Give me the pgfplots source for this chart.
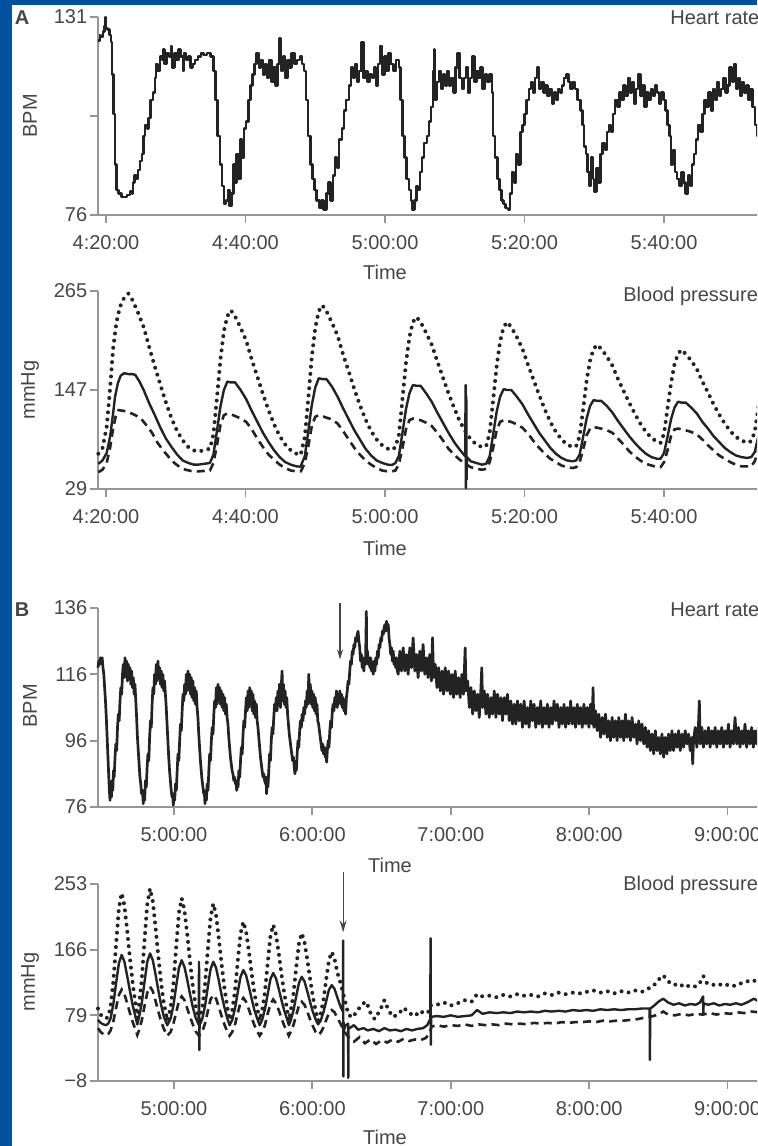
\documentclass[border=0pt]{standalone}
\usepackage{fontspec}
\setmainfont{Liberation Sans}
\usepackage{pgfplots}
\pgfplotsset{compat=1.18}
\usetikzlibrary{arrows.meta}

\definecolor{frameblue}{RGB}{0,82,160}
\definecolor{axgray}{RGB}{150,150,150}
\definecolor{txtgray}{RGB}{70,70,70}
\definecolor{trace}{RGB}{35,35,35}

\newcommand{\lbl}{\fontsize{10}{12}\selectfont\color{txtgray}}

\pgfplotsset{
  panel/.style={
    scale only axis, anchor=south west,
    width=346pt,
    axis x line*=bottom, axis y line*=left,
    axis line style={draw=axgray, line width=1pt, -},
    tick style={draw=axgray, line width=0.9pt},
    tick align=outside, major tick length=4pt,
    ticklabel style={font=\fontsize{10}{12}\selectfont, text=txtgray},
    xticklabel style={yshift=-2.5pt},
    yticklabel style={inner xsep=1.2pt},
    clip=false,
  },
  hr/.style={trace, line width=1.2pt, line join=round, no markers},
  sys/.style={trace, line width=2pt, line cap=round, dash pattern=on 0pt off 3.6pt, no markers},
  mean/.style={trace, line width=1.2pt, line join=round, no markers},
  dia/.style={trace, line width=1.3pt, dash pattern=on 4pt off 2.6pt, no markers},
}

\begin{document}
\begin{tikzpicture}
\path[use as bounding box] (0,0) rectangle (378.5pt,573pt);
\clip (0,0) rectangle (378.5pt,573pt);
\fill[frameblue] (0,0) rectangle (378.5pt,573pt);
\fill[white] (6pt,0pt) rectangle (378.5pt,570.5pt);

% ---------------- A: heart rate (x in minutes after 4:00)
\begin{axis}[panel, at={(49pt,465.5pt)}, height=99pt,
  xmin=18.853, xmax=118.06, ymin=76, ymax=131,
  xtick={20,40,60,80,100},
  xticklabels={4:20:00,4:40:00,5:00:00,5:20:00,5:40:00},
  ytick={76,103.5,131}, yticklabels={76,,131}]
\addplot[hr, const plot] coordinates {
(18.9,124.5)(19.1,126)(19.3,125.5)(19.6,127)(19.8,128.5)(19.9,131)(20.0,128)(20.2,127.5)(20.5,126)(20.7,124)
(20.9,115)(21.1,104)(21.3,90)(21.5,83)(21.8,82)(22.2,81)(22.6,81)(23.0,81.5)(23.4,82.5)(23.7,82)
(23.9,85)(24.1,87)(24.4,86)(24.6,88.5)(24.9,91)(25.2,93)(25.4,98)(25.6,101)(25.9,100)(26.1,103)
(26.4,108)(26.7,110)(27.0,114)(27.2,118)(27.4,116)(27.7,120)(28.0,119)(28.2,122)(28.4,118)(28.7,121)
(29.0,120)(29.3,123)(29.5,117)(29.8,121)(30.1,119)(30.4,122)(30.7,120)(31.0,116)(31.2,121)(31.5,119)
(31.8,120)(32.1,117)(32.4,118)(32.8,119)(33.2,120)(33.6,121)(34.0,120.5)(34.5,121)(35.0,120)(35.4,116)
(35.7,108)(36.0,98)(36.3,90)(36.6,84)(36.9,79)(37.2,80)(37.5,83)(37.7,78.5)(38.0,82)(38.3,90)
(38.5,85)(38.7,93)(39.0,86)(39.3,97)(39.5,92)(39.8,100)(40.1,102)(40.4,108)(40.7,112)(41.0,115)
(41.3,118)(41.6,121)(41.9,117)(42.2,119)(42.5,115)(42.8,118)(43.1,114)(43.4,119)(43.7,113)(44.0,117)
(44.3,112)(44.6,118)(44.9,125)(45.1,116)(45.4,120)(45.7,114)(46.0,119)(46.3,117)(46.6,121)(47.0,118)
(47.4,119)(47.8,120)(48.1,118)(48.4,116)(48.7,108)(49.0,98)(49.3,90)(49.6,86)(49.9,83)(50.2,80)
(50.6,78)(50.9,80)(51.2,77.5)(51.6,82)(51.9,85)(52.2,80)(52.5,87)(52.8,92)(53.1,89)(53.4,97)
(53.8,100)(54.1,105)(54.4,108)(54.8,112)(55.1,117)(55.4,114)(55.7,118)(56.0,113)(56.3,116)(56.6,124)
(56.9,114)(57.2,116)(57.5,113)(57.8,115)(58.1,114)(58.4,117)(58.7,112)(59.0,118)(59.3,123)(59.6,115)
(59.9,120)(60.2,116)(60.5,121)(60.8,118)(61.2,116)(61.6,119)(62.0,117)(62.2,108)(62.5,98)(62.8,92)
(63.1,86)(63.4,83)(63.7,80)(63.9,77.5)(64.2,80)(64.5,84)(64.7,83)(65.0,88)(65.3,92)(65.6,96)
(66.0,98)(66.3,102)(66.6,106)(66.9,116)(67.0,122)(67.1,108)(67.4,113)(67.7,116)(68.0,111)(68.3,115)
(68.6,112)(68.9,116)(69.2,112)(69.5,114)(69.8,110)(70.1,117)(70.4,121)(70.7,114)(71.0,111)(71.3,114)
(71.6,117)(71.9,110)(72.2,114)(72.5,120)(72.8,113)(73.1,116)(73.4,114)(73.7,117)(74.0,111)(74.3,115)
(74.6,113)(75.0,115)(75.3,110)(75.5,98)(75.8,92)(76.1,86)(76.4,83)(76.7,80)(77.0,79)(77.3,78)
(77.6,77.5)(77.9,82)(78.2,88)(78.5,85)(78.8,93)(79.1,90)(79.4,99)(79.7,101)(80.0,104)(80.3,108)
(80.6,111)(80.9,113)(81.2,110)(81.5,114)(81.8,117)(82.1,111)(82.4,113)(82.7,110)(83.0,112)(83.3,109)
(83.6,111)(83.9,107)(84.2,110)(84.5,108)(84.8,111)(85.1,110)(85.4,112)(85.7,114)(86.0,115)(86.3,113)
(86.6,111)(86.9,113)(87.2,111)(87.6,108)(88.0,105)(88.3,101)(88.5,95)(88.8,93)(89.0,88)(89.3,84)
(89.5,92)(89.8,86)(90.0,82.5)(90.3,89)(90.6,85)(90.9,93)(91.2,96)(91.5,94)(91.8,99)(92.1,101)
(92.4,99)(92.7,104)(93.0,108)(93.3,106)(93.6,110)(93.9,108)(94.2,112)(94.5,109)(94.8,114)(95.1,110)
(95.4,113)(95.7,107)(96.0,111)(96.3,115)(96.6,109)(96.9,112)(97.2,106)(97.5,110)(97.8,108)(98.1,111)
(98.4,109)(98.7,112)(99.0,110)(99.3,107)(99.6,110)(99.9,108)(100.2,105)(100.5,101)(100.8,98)(101.0,90)
(101.3,94)(101.6,88)(101.9,86)(102.2,84)(102.5,88)(102.8,85)(103.1,82)(103.4,87)(103.7,84)(104.0,90)
(104.3,93)(104.6,97)(104.9,101)(105.2,99)(105.5,104)(105.8,108)(106.1,106)(106.4,110)(106.7,105)(107.0,111)
(107.3,108)(107.6,113)(107.9,109)(108.2,111)(108.5,114)(108.8,110)(109.1,112)(109.4,117)(109.7,113)(110.0,118)
(110.3,111)(110.6,114)(110.9,109)(111.2,113)(111.5,110)(111.8,112)(112.1,108)(112.4,111)(112.7,106)(113.0,101)
(113.3,98)(113.6,95)(114.0,93)};
\end{axis}

% ---------------- A: blood pressure
\begin{axis}[panel, at={(49pt,328.5pt)}, height=99pt,
  xmin=18.853, xmax=118.06, ymin=29, ymax=265,
  xtick={20,40,60,80,100},
  xticklabels={4:20:00,4:40:00,5:00:00,5:20:00,5:40:00},
  ytick={29,147,265}, yticklabels={29,147,265}]
\addplot[sys] coordinates {
(18.9,71)(19.5,78)(20.1,103)(20.6,150)(21.0,195)(21.5,228)(22.0,246)(22.6,257)(23.2,262)(23.8,254)(24.6,239)(25.4,222)(26.2,198)(27.0,175)(27.8,153)(28.6,132)(29.4,113)(30.2,98)(31.0,87)(31.8,79)(32.6,75)(33.2,73.5)
(34.9,77)(35.4,94)(35.9,137)(36.4,183)(36.9,217)(37.4,235)(37.9,242)(38.5,235)(39.3,221)(40.1,206)(40.9,183)(41.7,163)(42.5,142)(43.3,123)(44.1,106)(44.9,92)(45.7,82)(46.5,75)(47.3,71)(47.9,69.5)
(48.0,73)(48.5,91)(49.0,137)(49.5,186)(50.0,221)(50.5,241)(51.0,248)(51.6,241)(52.4,227)(53.2,212)(54.0,189)(54.8,169)(55.6,148)(56.4,129)(57.2,112)(58.0,98)(58.8,88)(59.6,81)(60.4,77)(61.0,75.5)
(61.5,79)(62.0,94)(62.5,136)(63.0,179)(63.5,210)(64.0,228)(64.5,234)(65.1,228)(65.9,215)(66.7,201)(67.5,181)(68.3,162)(69.1,143)(69.9,126)(70.7,110)(71.5,98)(72.3,88)(73.1,82)(73.9,79)
(74.5,80)(75.0,96)(75.5,135)(76.0,175)(76.5,205)(77.0,222)(77.5,228)(78.1,222)(78.9,210)(79.7,196)(80.5,177)(81.3,159)(82.1,141)(82.9,124)(83.7,109)(84.5,97)(85.3,88)(86.1,82)(86.9,79)
(87.4,80)(87.9,92)(88.4,124)(88.9,158)(89.4,182)(89.9,196)(90.4,201)(91.0,196)(91.8,187)(92.6,176)(93.4,160)(94.2,146)(95.0,132)(95.8,119)(96.6,107)(97.4,97)(98.2,90)(99.0,85)
(99.5,84)(100.0,95)(100.5,125)(101.0,155)(101.5,178)(102.0,190)(102.5,195)(103.1,190)(103.9,182)(104.7,172)(105.5,157)(106.3,144)(107.1,130)(107.9,118)(108.7,107)(109.5,98)(110.3,91)(111.1,87)(111.9,84)
(112.5,86)(113.0,97)(113.5,125)(114.0,155)(114.5,177)};
\addplot[mean] coordinates {
(18.9,59)(19.5,63)(20.1,72)(20.6,92)(21.0,118)(21.3,139)(21.7,155)(22.1,164)(22.6,167)(23.2,166)(23.8,166)(24.2,165)(24.8,157)(25.4,147)(26.2,131)(27.0,117)(27.8,102)(28.6,89)(29.4,79)(30.2,70)(31.0,63)(31.8,60)(32.6,58)(33.2,58)
(34.9,60)(35.4,70)(35.9,98)(36.4,127)(36.9,147)(37.4,157)(37.9,156)(38.5,156)(39.3,147)(40.1,136)(40.9,122)(41.7,109)(42.5,96)(43.3,85)(44.1,75)(44.9,67)(45.7,61)(46.5,58)(47.3,56)(47.9,55.6)
(48.0,58)(48.5,68)(49.0,98)(49.5,129)(50.0,150)(50.5,161)(51.0,160)(51.6,160)(52.4,151)(53.2,139)(54.0,125)(54.8,112)(55.6,99)(56.4,88)(57.2,77)(58.0,69)(58.8,63)(59.6,60)(60.4,58)(61.0,57.6)
(61.5,60)(62.0,69)(62.5,96)(63.0,124)(63.5,143)(64.0,153)(64.5,152)(65.1,152)(65.9,143)(66.7,133)(67.5,120)(68.3,108)(69.1,96)(69.9,85)(70.7,76)(71.5,68)
(71.55,153)(71.6,30)(71.65,140)(71.7,40)(71.75,67)(72.3,62)(73.1,60)(73.9,58)
(74.5,59)(75.0,68)(75.5,94)(76.0,121)(76.5,139)(77.0,148)(77.5,147)(78.1,147)(78.9,139)(79.7,130)(80.5,118)(81.3,107)(82.1,96)(82.9,87)(83.7,78)(84.5,71)(85.3,66)(86.1,63)(86.9,62)
(87.4,63)(87.9,70)(88.4,91)(88.9,113)(89.4,128)(89.9,135)(90.4,134)(91.0,134)(91.8,128)(92.6,120)(93.4,110)(94.2,101)(95.0,92)(95.8,84)(96.6,77)(97.4,71)(98.2,67)(99.0,65)
(99.5,65)(100.0,72)(100.5,91)(101.0,112)(101.5,126)(102.0,133)(102.5,132)(103.1,132)(103.9,126)(104.7,119)(105.5,109)(106.3,101)(107.1,92)(107.9,85)(108.7,78)(109.5,73)(110.3,69)(111.1,67)(111.9,66)
(112.5,67)(113.0,73)(113.5,91)(114.0,109)(114.5,122)};
\addplot[dia] coordinates {
(18.9,49)(19.5,52)(20.1,60)(20.6,79)(21.0,100)(21.4,116)(21.8,123)(22.6,122)(23.4,120)(24.2,117)(25.0,113)(25.8,105)(26.6,96)(27.4,84)(28.2,75)(29.0,67)(29.8,60)(30.6,55)(31.4,52)(32.2,50.5)(33.2,50)
(34.9,51)(35.4,60)(35.9,81)(36.4,105)(36.9,117)(37.4,119)(37.9,118)(38.5,116)(39.3,113)(40.1,109)(40.9,100)(41.7,89)(42.5,79)(43.3,70)(44.1,64)(44.9,58)(45.7,54)(46.5,51)(47.3,50)(47.9,50)
(48.0,51)(48.5,60)(49.0,80)(49.5,104)(50.0,115)(50.5,117)(51.0,116)(51.6,114)(52.4,112)(53.2,107)(54.0,98)(54.8,88)(55.6,78)(56.4,70)(57.2,63)(58.0,58)(58.8,54)(59.6,51)(60.4,50)(61.0,50)
(61.5,51)(62.0,59)(62.5,78)(63.0,100)(63.5,111)(64.0,113)(64.5,112)(65.1,111)(65.9,108)(66.7,104)(67.5,96)(68.3,87)(69.1,77)(69.9,70)(70.7,64)(71.5,59)(72.3,55)(73.1,53)(73.9,52)
(74.5,53)(75.0,61)(75.5,78)(76.0,99)(76.5,109)(77.0,111)(77.5,110)(78.1,109)(78.9,106)(79.7,102)(80.5,95)(81.3,86)(82.1,78)(82.9,71)(83.7,65)(84.5,61)(85.3,57)(86.1,55)(86.9,54)
(87.4,55)(87.9,61)(88.4,76)(88.9,93)(89.4,101)(89.9,103)(90.4,102)(91.0,101)(91.8,99)(92.6,96)(93.4,89)(94.2,82)(95.0,74)(95.8,68)(96.6,63)(97.4,59)(98.2,57)(99.0,55)
(99.5,55)(100.0,61)(100.5,75)(101.0,92)(101.5,100)(102.0,101)(102.5,100)(103.1,99)(103.9,97)(104.7,94)(105.5,88)(106.3,81)(107.1,75)(107.9,69)(108.7,65)(109.5,61)(110.3,58)(111.1,56)(111.9,56)
(112.5,56)(113.0,62)(113.5,75)(114.0,91)(114.5,98)};
\end{axis}

% ---------------- B: heart rate (x in hours)
\begin{axis}[panel, at={(49pt,169.5pt)}, height=99.5pt,
  xmin=4.451, xmax=9.451, ymin=76, ymax=136,
  xtick={5,6,7,8,9},
  xticklabels={5:00:00,6:00:00,7:00:00,8:00:00,9:00:00},
  ytick={76,96,116,136}, yticklabels={76,96,116,136}]
\addplot[hr, line width=1.35pt] coordinates {
(4.451,118)(4.457,120)(4.463,119)(4.469,121)(4.475,120)(4.481,121)(4.487,118)
(4.493,116)(4.499,112)(4.505,108)(4.511,103)(4.517,97)(4.523,91)(4.528,86)(4.533,81)(4.538,78)
(4.543,82)(4.548,79)(4.553,84)(4.558,81)(4.563,87)(4.568,85)(4.574,91)(4.580,95)(4.586,93)(4.592,100)(4.598,104)(4.604,102)(4.610,108)(4.616,112)(4.622,110)(4.628,116)
(4.634,119)(4.640,115)(4.646,121)(4.652,116)(4.658,120)(4.664,114)(4.670,119)(4.676,115)(4.682,118)(4.688,113)(4.694,117)(4.700,112)(4.706,115)(4.712,110)(4.718,113)
(4.724,108)(4.730,103)(4.736,97)(4.742,93)(4.748,89)(4.754,85)(4.760,83)(4.766,80)(4.772,81)(4.778,77)
(4.783,81)(4.788,78)(4.794,84)(4.800,82)(4.806,88)(4.812,92)(4.818,90)(4.824,97)(4.830,102)(4.836,100)(4.842,107)(4.848,112)(4.854,110)(4.860,116)
(4.866,113)(4.872,119)(4.878,114)(4.884,120)(4.890,115)(4.896,118)(4.902,113)(4.908,117)(4.914,112)(4.920,116)(4.926,111)(4.932,114)(4.938,110)
(4.944,106)(4.950,101)(4.956,96)(4.962,91)(4.968,87)(4.974,84)(4.980,81)(4.986,79)(4.990,80)(4.995,76.5)
(5.000,80)(5.005,78)(5.011,83)(5.017,81)(5.023,87)(5.029,92)(5.035,90)(5.041,96)(5.047,101)(5.053,99)(5.059,105)(5.065,110)(5.071,108)(5.077,113)
(5.083,110)(5.089,116)(5.095,111)(5.101,117)(5.107,112)(5.113,116)(5.119,110)(5.125,115)(5.131,109)(5.137,114)(5.143,108)(5.149,112)(5.155,107)(5.161,111)(5.167,106)
(5.173,103)(5.179,98)(5.185,94)(5.191,90)(5.197,87)(5.203,84)(5.209,82)(5.215,80)(5.219,81)(5.224,77)
(5.229,80)(5.234,78)(5.240,83)(5.246,81)(5.252,87)(5.258,92)(5.264,90)(5.270,96)(5.276,100)(5.282,98)(5.288,104)(5.294,108)
(5.300,106)(5.306,112)(5.312,107)(5.318,113)(5.324,108)(5.330,112)(5.336,107)(5.342,111)(5.348,106)(5.354,110)(5.360,105)(5.366,109)(5.372,104)(5.378,107)(5.384,103)
(5.390,101)(5.396,97)(5.402,94)(5.408,91)(5.414,89)(5.420,87)(5.426,86)(5.432,84)(5.438,85)(5.444,83)(5.448,84)(5.453,81)
(5.458,84)(5.463,82)(5.469,87)(5.475,85)(5.481,90)(5.487,94)(5.493,92)(5.499,98)(5.505,102)(5.511,100)(5.517,105)
(5.523,109)(5.529,105)(5.535,111)(5.541,106)(5.547,112)(5.553,107)(5.559,111)(5.565,105)(5.571,110)(5.577,104)(5.583,108)(5.589,103)(5.595,107)(5.601,102)
(5.607,100)(5.613,97)(5.619,94)(5.625,91)(5.631,89)(5.637,87)(5.643,85)(5.649,86)(5.655,84)(5.661,83)(5.665,85)(5.669,80)
(5.674,84)(5.679,82)(5.685,87)(5.691,92)(5.697,90)(5.703,96)(5.709,100)(5.715,98)(5.721,103)(5.727,107)(5.733,105)
(5.739,109)(5.745,105)(5.751,111)(5.757,107)(5.763,113)(5.769,106)(5.775,112)(5.781,117)(5.786,108)(5.791,113)(5.797,107)(5.803,111)(5.809,106)(5.815,109)
(5.821,104)(5.827,101)(5.833,98)(5.839,96)(5.845,94)(5.851,92)(5.857,90)(5.863,91)(5.869,88)(5.874,86)
(5.879,89)(5.884,87)(5.890,92)(5.896,96)(5.902,94)(5.908,99)(5.914,102)(5.920,100)(5.926,104)(5.932,102)(5.938,106)(5.944,104)(5.950,108)
(5.956,106)(5.962,111)(5.968,107)(5.974,116)(5.979,108)(5.985,113)(5.991,107)(5.997,111)(6.003,106)(6.009,110)(6.015,105)(6.021,109)(6.027,104)(6.033,107)
(6.039,102)(6.045,101)(6.051,99)(6.057,97)(6.063,95)(6.069,93)(6.075,95)(6.081,92)(6.087,94)(6.093,91)(6.098,93)(6.103,89.5)
(6.108,93)(6.114,96)(6.120,94)(6.126,99)(6.132,102)(6.138,100)(6.144,105)(6.150,107)
(6.156,105)(6.162,109)(6.168,107)(6.174,111)(6.180,106)(6.186,110)(6.192,108)(6.198,111)(6.204,107)(6.210,110)(6.216,106)(6.222,109)(6.228,105)(6.234,108)(6.240,104)(6.246,109)
(6.252,111)(6.258,114)(6.264,113)(6.270,117)(6.276,120)(6.282,119)(6.288,123)(6.294,122)(6.300,125)(6.306,124)(6.312,127)(6.318,126)(6.324,128)(6.330,129)(6.336,126)(6.342,124)(6.348,120)(6.354,122)(6.360,118)(6.366,121)
(6.372,117)(6.378,121)(6.384,119)(6.390,135)(6.393,120)(6.398,123)(6.404,119)(6.410,121)(6.416,118)(6.422,121)(6.428,117)(6.434,119)(6.440,116)(6.446,120)(6.452,117)(6.458,121)(6.464,119)(6.470,123)(6.476,121)(6.482,125)
(6.488,124)(6.494,127)(6.500,126)(6.506,129)(6.512,128)(6.518,130)(6.524,131)(6.530,129)(6.536,132)(6.542,130)(6.548,131)(6.554,127)(6.560,125)(6.566,122)(6.572,124)(6.578,120)(6.584,123)(6.590,119)(6.596,121)(6.602,118)(6.608,121)(6.614,117)
(6.620,116)(6.632,123)(6.644,117)(6.656,124)(6.668,117)(6.680,122)(6.692,116)(6.704,124)(6.716,118)(6.728,127)(6.740,117)(6.752,122)(6.764,115)(6.776,123)(6.788,117)(6.800,125)(6.812,116)(6.824,121)(6.836,115)(6.848,122)
(6.860,114)(6.868,127)(6.876,115)(6.888,119)(6.900,112)(6.912,118)(6.924,111)(6.936,117)(6.948,110)(6.960,118)(6.972,111)(6.984,117)(6.996,110)(7.008,116)(7.020,109)(7.032,117)(7.044,110)(7.056,115)(7.068,109)(7.080,116)
(7.092,110)(7.104,124)(7.110,111)(7.122,114)(7.134,106)(7.146,112)(7.158,104)(7.170,111)(7.182,105)(7.194,110)(7.206,103)(7.218,112)(7.224,118)(7.230,106)(7.242,111)(7.254,104)(7.266,110)(7.278,103)(7.290,109)(7.302,104)
(7.314,111)(7.326,103)(7.338,110)(7.350,104)(7.362,109)(7.374,102)(7.386,109)(7.398,104)(7.410,110)(7.422,102)(7.434,108)(7.446,101)(7.458,107)(7.470,101)(7.482,108)(7.494,102)(7.506,107)(7.518,100)(7.530,108)(7.542,101)
(7.554,106)(7.566,100)(7.578,108)(7.590,102)(7.602,107)(7.614,100)(7.626,106)(7.638,101)(7.650,108)(7.662,100)(7.674,106)(7.686,101)(7.698,107)(7.710,100)(7.722,106)(7.734,101)(7.746,108)(7.758,102)(7.770,107)(7.782,100)
(7.794,106)(7.806,101)(7.818,107)(7.830,100)(7.842,106)(7.854,101)(7.866,108)(7.878,101)(7.890,106)(7.902,100)(7.914,107)(7.926,101)(7.938,106)(7.950,100)(7.962,107)(7.974,101)(7.986,106)(7.998,100)(8.010,107)(8.022,101)
(8.028,112)(8.034,100)(8.046,105)(8.058,99)(8.070,104)(8.082,97)(8.094,103)(8.106,98)(8.118,104)(8.130,97)(8.142,102)(8.154,96)(8.166,103)(8.178,97)(8.190,102)(8.202,96)(8.214,103)(8.226,97)(8.238,102)(8.250,96)
(8.262,104)(8.274,97)(8.286,102)(8.298,96)(8.310,103)(8.322,97)(8.334,101)(8.346,95)(8.358,102)(8.370,96)(8.382,101)(8.394,95)(8.406,100)(8.418,94)(8.430,99)(8.442,93)(8.454,98)(8.466,92)(8.478,99)(8.490,93)
(8.502,97)(8.514,92)(8.526,98)(8.538,91)(8.550,97)(8.562,92)(8.574,98)(8.586,93)(8.598,99)(8.610,93)(8.622,98)(8.634,94)(8.646,99)(8.658,93)(8.670,98)(8.682,94)(8.694,99)(8.706,95)(8.718,98)(8.730,93)
(8.742,97)(8.748,89)(8.754,96)(8.766,100)(8.778,94)(8.790,101)(8.796,108)(8.802,95)(8.814,100)(8.826,94)(8.838,99)(8.850,95)(8.862,100)(8.874,94)(8.886,99)(8.898,95)(8.910,100)(8.922,94)(8.934,99)(8.946,95)
(8.958,100)(8.970,94)(8.982,99)(8.994,95)(9.006,101)(9.018,94)(9.030,99)(9.042,95)(9.054,103)(9.066,95)(9.078,100)(9.090,94)(9.102,99)(9.114,95)(9.126,101)(9.138,94)(9.150,99)(9.162,95)(9.174,100)(9.186,94)
(9.198,99)(9.210,95)(9.222,100)(9.234,96)(9.246,99)};
\draw[txtgray, line width=0.6pt, -{Stealth[length=5pt,width=3pt]}] (axis cs:6.20,137.5) -- (axis cs:6.20,120.5);
\end{axis}

% ---------------- B: blood pressure
\begin{axis}[panel, at={(49pt,32.5pt)}, height=98.5pt,
  xmin=4.451, xmax=9.451, ymin=-8, ymax=253,
  xtick={5,6,7,8,9},
  xticklabels={5:00:00,6:00:00,7:00:00,8:00:00,9:00:00},
  ytick={-8,79,166,253}, yticklabels={−8,79,166,253}]
\addplot[sys] coordinates {
(4.451,88)(4.47,80)(4.49,76)(4.51,75)(4.525,77)
(4.542,91)(4.562,124)(4.582,174)(4.602,221)(4.622,241)(4.642,224)(4.662,191)(4.682,154)(4.702,121)(4.722,94)(4.735,75)
(4.747,91)(4.767,126)(4.787,178)(4.807,226)(4.827,247)(4.847,230)(4.867,195)(4.887,157)(4.907,122)(4.927,95)(4.952,72)
(4.976,89)(4.996,121)(5.016,170)(5.036,215)(5.056,234)(5.076,218)(5.096,186)(5.116,150)(5.136,118)(5.156,92)(5.180,73)
(5.204,88)(5.224,119)(5.244,165)(5.264,208)(5.284,227)(5.304,212)(5.324,181)(5.344,147)(5.364,116)(5.384,91)(5.402,73)
(5.421,86)(5.441,112)(5.461,151)(5.481,187)(5.501,203)(5.521,190)(5.541,164)(5.561,135)(5.581,109)(5.601,89)(5.619,72)
(5.637,85)(5.657,110)(5.677,148)(5.697,184)(5.717,199)(5.737,186)(5.757,161)(5.777,133)(5.797,108)(5.817,87)(5.830,72)
(5.843,84)(5.863,107)(5.883,142)(5.903,174)(5.923,188)(5.943,176)(5.963,153)(5.983,128)(6.003,104)(6.023,86)(6.041,72)
(6.060,81)(6.080,99)(6.100,127)(6.120,152)(6.140,163)(6.160,154)(6.180,136)(6.200,124)(6.220,110)
(6.240,95)(6.26,80)(6.29,76)(6.32,84)(6.36,94)(6.39,97)(6.42,82)(6.45,74)(6.49,86)(6.52,99)(6.55,86)(6.58,77)(6.62,80)(6.66,89)(6.70,82)(6.74,78)(6.78,85)(6.81,81)(6.84,84)
(6.853,92)(6.90,93)(6.95,96)(7.00,92)(7.05,95)(7.10,99)(7.15,97)(7.19,107)(7.23,104)(7.28,105)(7.33,103)(7.38,106)(7.43,104)(7.48,107)(7.53,105)(7.58,106)(7.63,104)(7.68,108)(7.73,106)(7.78,109)
(7.83,107)(7.88,109)(7.93,108)(7.98,110)(8.03,112)(8.08,109)(8.13,111)(8.18,108)(8.23,111)(8.28,109)(8.33,112)(8.38,110)(8.42,114)(8.46,117)(8.50,126)(8.535,132)(8.57,124)(8.61,119)(8.65,121)(8.69,116)
(8.73,119)(8.77,117)(8.80,122)(8.825,131)(8.85,122)(8.89,119)(8.93,121)(8.97,118)(9.01,120)(9.05,118)(9.09,121)(9.13,123)(9.17,126)(9.21,124)(9.25,125)};
\addplot[mean] coordinates {
(4.451,73)(4.47,69)(4.49,67)(4.51,66)(4.525,68)
(4.542,75)(4.562,94)(4.582,122)(4.602,148)(4.622,159)(4.642,150)(4.662,131)(4.682,111)(4.702,92)(4.722,77)(4.735,67)
(4.747,76)(4.767,95)(4.787,123)(4.807,150)(4.827,161)(4.847,152)(4.867,133)(4.887,112)(4.907,93)(4.927,77)(4.952,66)
(4.976,75)(4.996,92)(5.016,118)(5.036,142)(5.056,152)(5.076,143)(5.096,126)(5.116,107)(5.136,90)(5.156,76)(5.178,67)(5.181,150)(5.183,33)(5.185,66)
(5.204,74)(5.224,91)(5.244,116)(5.264,140)(5.284,150)(5.304,142)(5.324,125)(5.344,106)(5.364,90)(5.384,76)(5.402,66)
(5.421,73)(5.441,88)(5.461,110)(5.481,130)(5.501,139)(5.521,132)(5.541,117)(5.561,101)(5.581,86)(5.601,75)(5.619,66)
(5.637,73)(5.657,87)(5.677,107)(5.697,127)(5.717,135)(5.737,128)(5.757,114)(5.777,99)(5.797,85)(5.817,74)(5.830,66)
(5.843,72)(5.863,85)(5.883,104)(5.903,122)(5.923,130)(5.943,124)(5.963,111)(5.983,97)(6.003,84)(6.023,74)(6.041,67)
(6.060,72)(6.080,83)(6.100,98)(6.120,113)(6.140,119)(6.160,114)(6.180,103)(6.200,92)(6.220,84)
(6.2225,178)(6.2240,-2)(6.2255,70)(6.230,60)(6.236,65)(6.258,68)(6.2595,-4)(6.261,64)
(6.27,62)(6.30,66)(6.33,60)(6.37,62)(6.40,59)(6.44,61)(6.48,58)(6.52,62)(6.56,59)(6.60,60)(6.64,58)(6.68,61)(6.72,59)(6.76,61)(6.80,62)(6.83,66)(6.852,74)
(6.854,181)(6.856,40)(6.858,77)(6.90,78)(6.95,77)(7.00,79)(7.05,77)(7.10,78)(7.15,79)(7.19,86)(7.23,81)(7.28,83)(7.33,82)(7.38,83)(7.43,82)(7.48,84)(7.53,83)(7.58,84)(7.63,83)(7.68,85)
(7.73,84)(7.78,85)(7.83,84)(7.88,86)(7.93,85)(7.98,86)(8.03,85)(8.08,87)(8.13,86)(8.18,87)(8.23,86)(8.28,87)(8.33,87)(8.38,88)(8.437,88)(8.439,20)(8.441,88)(8.47,92)(8.50,97)(8.535,101)
(8.57,96)(8.61,93)(8.65,95)(8.69,92)(8.73,94)(8.77,93)(8.80,96)(8.823,104)(8.825,80)(8.827,95)(8.86,93)(8.90,95)(8.94,92)(8.98,94)(9.02,93)(9.06,95)(9.10,93)(9.14,96)(9.19,101)(9.23,97)(9.26,96)};
\addplot[dia] coordinates {
(4.451,62)(4.47,57)(4.49,54)(4.51,53)(4.525,54)
(4.542,59)(4.562,71)(4.582,89)(4.602,106)(4.622,113)(4.642,107)(4.662,95)(4.682,82)(4.702,70)(4.722,60)(4.735,53)
(4.747,59)(4.767,72)(4.787,91)(4.807,109)(4.827,117)(4.847,111)(4.867,98)(4.887,84)(4.907,71)(4.927,61)(4.952,52)
(4.976,57)(4.996,68)(5.016,83)(5.036,98)(5.056,104)(5.076,99)(5.096,88)(5.116,77)(5.136,67)(5.156,58)(5.180,52)
(5.204,57)(5.224,68)(5.244,84)(5.264,100)(5.284,106)(5.304,101)(5.324,90)(5.344,78)(5.364,67)(5.384,58)(5.402,52)
(5.421,57)(5.441,67)(5.461,82)(5.481,96)(5.501,102)(5.521,97)(5.541,87)(5.561,76)(5.581,66)(5.601,58)(5.619,52)
(5.637,57)(5.657,66)(5.677,81)(5.697,94)(5.717,100)(5.737,95)(5.757,86)(5.777,75)(5.797,65)(5.817,58)(5.830,52)
(5.843,57)(5.863,66)(5.883,79)(5.903,92)(5.923,97)(5.943,93)(5.963,84)(5.983,74)(6.003,65)(6.023,57)(6.041,53)
(6.060,56)(6.080,63)(6.100,73)(6.120,82)(6.140,86)(6.160,83)(6.180,76)(6.200,69)(6.220,62)
(6.24,55)(6.27,48)(6.30,44)(6.34,50)(6.38,42)(6.42,47)(6.46,41)(6.50,46)(6.54,43)(6.58,47)(6.62,44)(6.66,48)(6.70,45)(6.74,47)(6.78,46)(6.82,49)(6.85,56)(6.86,64)
(6.90,66)(6.95,64)(7.00,66)(7.05,65)(7.10,67)(7.15,65)(7.20,67)(7.25,66)(7.30,67)(7.35,66)(7.40,68)(7.45,67)(7.50,68)(7.55,67)(7.60,69)(7.65,68)(7.70,69)(7.75,68)(7.80,70)(7.85,69)
(7.90,70)(7.95,70)(8.00,71)(8.05,70)(8.10,72)(8.15,71)(8.20,72)(8.25,72)(8.30,73)(8.35,74)(8.40,76)(8.44,77)(8.50,80)(8.535,84)(8.57,80)(8.62,79)(8.67,81)(8.72,79)(8.77,81)(8.82,80)
(8.87,82)(8.92,80)(8.97,82)(9.02,81)(9.07,83)(9.12,82)(9.17,84)(9.23,83)(9.26,83)};
\draw[txtgray, line width=0.6pt, -{Stealth[length=6pt,width=3.5pt]}] (axis cs:6.222,269) -- (axis cs:6.222,189);
\end{axis}

% ---------------- texts
\node[font=\fontsize{10}{12}\selectfont\bfseries, text=txtgray] at (11pt,564pt) {A};
\node[font=\fontsize{10}{12}\selectfont\bfseries, text=txtgray] at (11pt,268pt) {B};
\node[rotate=90] at (15pt,515pt) {\lbl BPM};
\node[rotate=90] at (15pt,378pt) {\lbl mmHg};
\node[rotate=90] at (15pt,220pt) {\lbl BPM};
\node[rotate=90] at (15pt,82pt) {\lbl mmHg};
\node at (192.5pt,437pt) {\lbl Time};
\node at (192.5pt,299pt) {\lbl Time};
\node at (195pt,140.5pt) {\lbl Time};
\node at (192.5pt,4.5pt) {\lbl Time};
\node[anchor=west, inner sep=0pt] at (335pt,564pt) {\lbl Heart rate};
\node[anchor=west, inner sep=0pt] at (335pt,268pt) {\lbl Heart rate};
\node[anchor=west, inner sep=0pt] at (311.5pt,425pt) {\lbl Blood pressure};
\node[anchor=west, inner sep=0pt] at (311.5pt,130.5pt) {\lbl Blood pressure};
\end{tikzpicture}
\end{document}
